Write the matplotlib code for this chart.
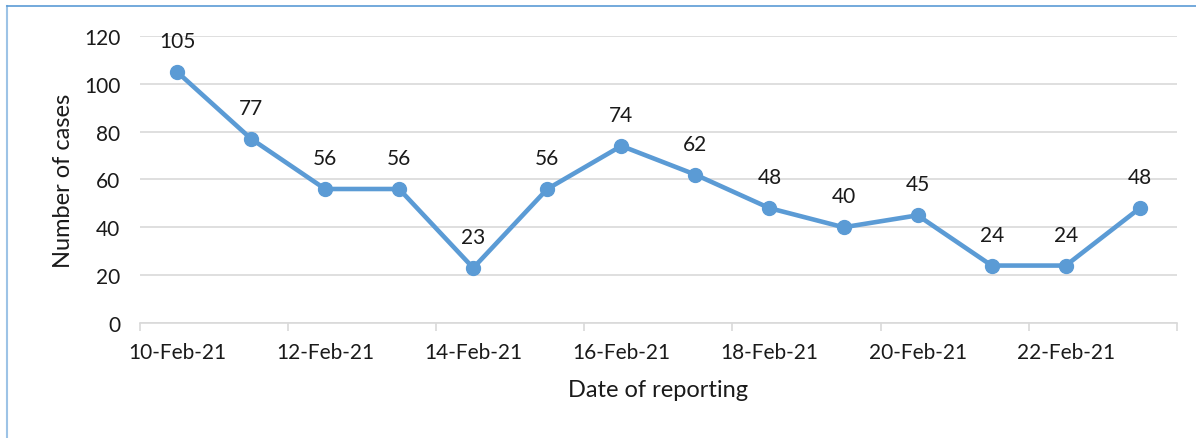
import matplotlib.pyplot as plt
from matplotlib.lines import Line2D

dates = ["10-Feb-21", "11-Feb-21", "12-Feb-21", "13-Feb-21", "14-Feb-21",
         "15-Feb-21", "16-Feb-21", "17-Feb-21", "18-Feb-21", "19-Feb-21",
         "20-Feb-21", "21-Feb-21", "22-Feb-21", "23-Feb-21"]
cases = [105, 77, 56, 56, 23, 56, 74, 62, 48, 40, 45, 24, 24, 48]

plt.rcParams['font.family'] = ['Lato', 'DejaVu Sans']
txt = '#1a1a1a'

fig = plt.figure(figsize=(11.96, 4.39), dpi=100)
ax = fig.add_axes([0.117, 0.262, 0.867, 0.654])

x = list(range(len(dates)))
ax.plot(x, cases, color='#5B9BD5', lw=3.3, marker='o', ms=10, zorder=3)
for xi, v in zip(x, cases):
    ax.annotate(str(v), (xi, v), xytext=(0, 15), textcoords='offset points',
                ha='center', va='bottom', fontsize=15, color=txt)

ax.set_xlim(-0.5, len(dates) - 0.5)
ax.set_ylim(0, 120)
ax.set_yticks(range(0, 121, 20))
ax.grid(axis='y', color='#d9d9d9', lw=1.2)
ax.set_axisbelow(True)

# labels on every other date, ticks at category boundaries
ax.set_xticks(x[::2])
ax.set_xticklabels(dates[::2])
ax.set_xticks([i - 0.5 for i in range(0, len(dates) + 1, 2)], minor=True)
ax.tick_params(axis='x', which='major', length=0, pad=14, labelsize=15, colors=txt)
ax.tick_params(axis='x', which='minor', length=6, width=1.2, color='#d9d9d9')
ax.tick_params(axis='y', length=0, pad=14, labelsize=15, colors=txt)

for s in ['top', 'right', 'left']:
    ax.spines[s].set_visible(False)
ax.spines['bottom'].set_color('#d9d9d9')
ax.spines['bottom'].set_linewidth(1.2)

ax.set_xlabel('Date of reporting', fontsize=17, color=txt, labelpad=12)
ax.set_ylabel('Number of cases', fontsize=17, color=txt, labelpad=7)

# chart border (left and top)
fig.add_artist(Line2D([0.006, 0.006], [0, 0.984], transform=fig.transFigure,
                      color='#9DC3E6', lw=1.5))
fig.add_artist(Line2D([0.006, 1], [0.984, 0.984], transform=fig.transFigure,
                      color='#5B9BD5', lw=1.2))

fig.savefig('out.png', dpi=100)
